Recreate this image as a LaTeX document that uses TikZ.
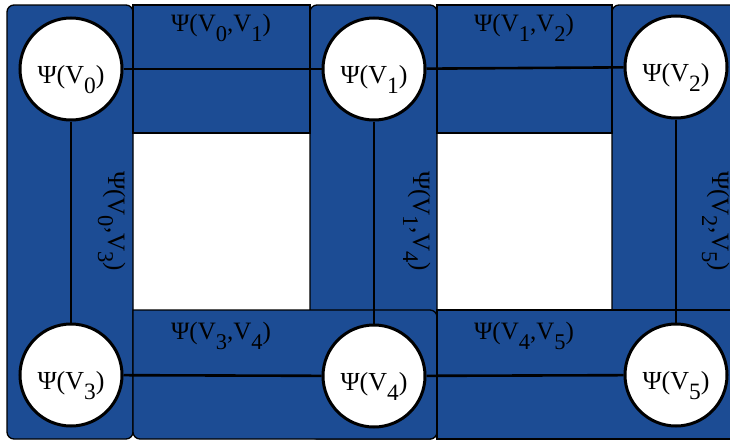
\documentclass[tikz,border=0pt]{standalone}
\usepackage{fontspec}
\setmainfont{Liberation Serif}
\definecolor{fblue}{RGB}{28,76,148}
\newcommand{\sbx}[1]{\raisebox{-0.4em}{\scalebox{0.9}{#1}}}
\begin{document}
\begin{tikzpicture}[x=1pt,y=-1pt,
  factor/.style={fill=fblue,draw=black,line width=1.3pt,rounded corners=7pt},
  sharpfactor/.style={fill=fblue,draw=black,line width=1.3pt},
  var/.style={circle,draw=black,fill=white,line width=3pt,minimum size=102pt,inner sep=0pt,
    font=\fontsize{26}{26}\selectfont,text height=30pt,text depth=2pt},
  link/.style={draw=black,line width=2.6pt},
  flabel/.style={font=\fontsize{25}{25}\selectfont,inner sep=0pt,anchor=base}]
\useasboundingbox (0,0) rectangle (730,442);
\clip (0,0) rectangle (730,442);
\fill[white] (0,0) rectangle (730,442);
% factor regions
\draw[factor] (7,5) rectangle (133,439);
\draw[factor] (310,5) rectangle (437,439);
\draw[factor] (612,5) rectangle (745,439);
\draw[sharpfactor] (133,5) rectangle (310,133);
\draw[sharpfactor] (437,5) rectangle (612,133);
\draw[sharpfactor] (133,439) -- (133,310) -- (430,310)
  [rounded corners=7pt] -- (437,310) -- (437,439) -- cycle;
\draw[sharpfactor] (437,310) rectangle (745,439);
% labels
\node[flabel] (l01) at (221,31) {Ψ(V\sbx{0},V\sbx{1})};
\node[flabel] (l12) at (524,31) {Ψ(V\sbx{1},V\sbx{2})};
\node[flabel] (l34) at (221,339) {Ψ(V\sbx{3},V\sbx{4})};
\node[flabel] (l45) at (524,339) {Ψ(V\sbx{4},V\sbx{5})};
\node[flabel,rotate=-90] (l03) at (108,221) {Ψ(V\sbx{0},V\sbx{3})};
\node[flabel,rotate=-90] (l14) at (413,221) {Ψ(V\sbx{1},V\sbx{4})};
\node[flabel,rotate=-90] (l25) at (712,221) {Ψ(V\sbx{2},V\sbx{5})};
% variables
\node[var] (v0) at (71,69) {Ψ(V\sbx{0})};
\node[var] (v1) at (374,69) {Ψ(V\sbx{1})};
\node[var] (v2) at (676,67) {Ψ(V\sbx{2})};
\node[var] (v3) at (71,375) {Ψ(V\sbx{3})};
\node[var] (v4) at (374,376) {Ψ(V\sbx{4})};
\node[var] (v5) at (676,375) {Ψ(V\sbx{5})};
% links
\draw[link] (v0) -- (v1);
\draw[link] (v1) -- (v2);
\draw[link] (v3) -- (v4);
\draw[link] (v4) -- (v5);
\draw[link] (v0) -- (v3);
\draw[link] (v1) -- (v4);
\draw[link] (v2) -- (v5);
\end{tikzpicture}
\end{document}
